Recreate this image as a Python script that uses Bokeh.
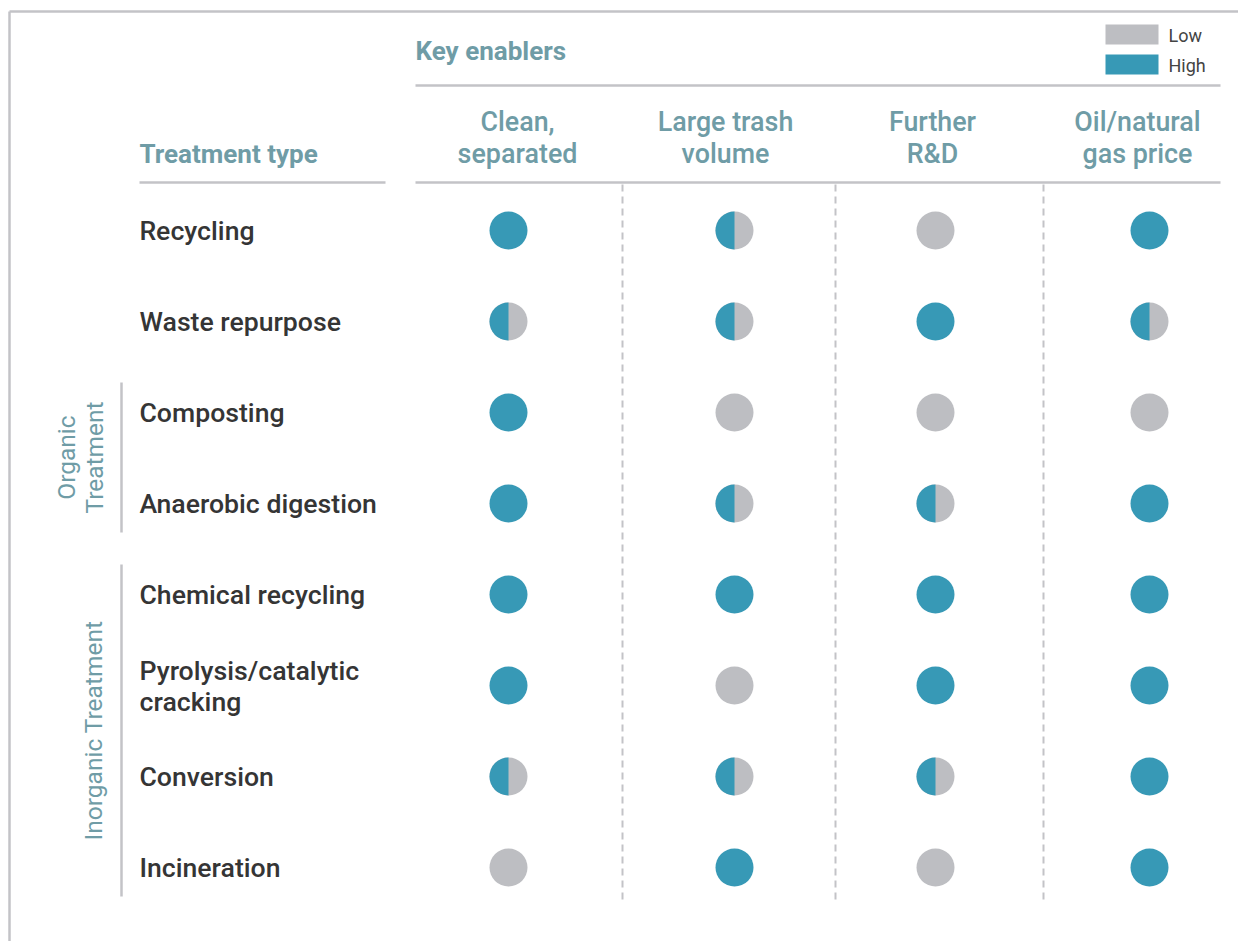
from bokeh.plotting import figure
from bokeh.models import Range1d
from bokeh.core.properties import value
from bokeh.embed import file_html
from bokeh.resources import INLINE
import math

# ---------------- data ----------------
treatments = ["Recycling", "Waste repurpose", "Composting", "Anaerobic digestion",
              "Chemical recycling", "Pyrolysis/catalytic\ncracking", "Conversion", "Incineration"]
enablers = ["Clean,\nseparated", "Large trash\nvolume", "Further\nR&D", "Oil/natural\ngas price"]
# 2 = High, 1 = Medium (half), 0 = Low
clean_separated = [2, 1, 2, 2, 2, 2, 1, 0]
large_volume    = [1, 1, 0, 1, 2, 0, 1, 2]
further_rd      = [0, 2, 0, 1, 2, 2, 1, 0]
oil_gas_price   = [2, 1, 0, 2, 2, 2, 2, 2]
groups = ["Organic\nTreatment", "Inorganic Treatment"]
group_rows = [(2, 3), (4, 7)]
legend_labels = ["Low", "High"]

# ---------------- layout / style ----------------
TEAL = "#3799b6"
GRAY = "#bdbec2"
HEAD = "#6f9ca6"
DARK = "#353535"
LINE = "#c3c3c7"
FONT = "Roboto"
FONT_M = "Roboto Medium"

W, H = 1238, 941
p = figure(width=W, height=H, output_backend="svg", toolbar_location=None,
           x_range=Range1d(0, W), y_range=Range1d(-H, 0),
           x_axis_location=None, y_axis_location=None, min_border=0)
p.grid.visible = False
p.outline_line_color = None
p.background_fill_color = "white"

def Y(py):
    return -py

row_y0, row_dy = 230, 91
row_ys = [Y(row_y0 + i * row_dy) for i in range(len(treatments))]
dot_xs = [508, 734, 935, 1149]
head_xs = [517, 725, 932, 1137]
dividers = [622, 835, 1043]

# outer frame
p.line([9, 9], [Y(949), Y(11)], line_color=LINE, line_width=2.5)
p.line([9, 1246], [Y(11), Y(11)], line_color=LINE, line_width=2.5)

# header lines
p.line([415, 1220], [Y(85), Y(85)], line_color=LINE, line_width=2.5)
p.line([415, 1220], [Y(182), Y(182)], line_color=LINE, line_width=2.5)
p.line([139, 385], [Y(182), Y(182)], line_color=LINE, line_width=2.5)

# dashed dividers
for dx in dividers:
    p.line([dx, dx], [Y(184), Y(902)], line_color=LINE, line_width=2, line_dash="7 5")

# headers
p.text(x=[415], y=[Y(50)], text=["Key enablers"], text_font=value(FONT), text_font_style="bold",
       text_font_size="26px", text_color=HEAD, text_baseline="middle", text_align="left")
p.text(x=[139], y=[Y(153)], text=["Treatment type"], text_font=value(FONT), text_font_style="bold",
       text_font_size="26px", text_color=HEAD, text_baseline="middle", text_align="left")
p.text(x=head_xs, y=[Y(137)] * 4, text=enablers, text_font=value(FONT_M),
       text_font_size="26.8px", text_color=HEAD, text_baseline="middle", text_align="center",
       text_line_height=1.0)

# row labels
p.text(x=[139] * len(treatments), y=row_ys, text=treatments, text_font=value(FONT_M),
       text_font_size="26.6px", text_color=DARK, text_baseline="middle", text_align="left",
       text_line_height=1.0)

# group labels and bars
for (r0, r1), g, gx in zip(group_rows, groups, [80, 93]):
    top = row_y0 + r0 * row_dy - 30
    bot = row_y0 + r1 * row_dy + 29
    p.line([121, 121], [Y(top), Y(bot)], line_color=LINE, line_width=2.5)
    p.text(x=[gx], y=[Y((top + bot) / 2)], text=[g], angle=math.pi / 2,
           text_font=value(FONT), text_font_size="24.5px", text_color=HEAD,
           text_baseline="middle", text_align="center", text_line_height=0.97)

# dots
cols = [clean_separated, large_volume, further_rd, oil_gas_price]
xs, ys, base, hx, hy = [], [], [], [], []
for ci, vals in enumerate(cols):
    for ri, v in enumerate(vals):
        xs.append(dot_xs[ci]); ys.append(row_ys[ri])
        base.append(TEAL if v == 2 else GRAY)
        if v == 1:
            hx.append(dot_xs[ci]); hy.append(row_ys[ri])
p.scatter(x=xs, y=ys, size=38, marker="circle", fill_color=base, line_color=None)
p.wedge(x=hx, y=hy, radius=19, radius_units="screen", start_angle=math.pi / 2,
        end_angle=3 * math.pi / 2, fill_color=TEAL, line_color=None)

# legend
p.rect(x=[1131.5, 1131.5], y=[Y(34), Y(64)], width=53, height=20, width_units="screen",
       height_units="screen", fill_color=[GRAY, TEAL], line_color=None)
p.text(x=[1168, 1168], y=[Y(35), Y(65)], text=legend_labels, text_font=value(FONT),
       text_font_size="18px", text_color="#444444", text_baseline="middle", text_align="left")

open("out.html", "w").write(file_html(p, INLINE))
